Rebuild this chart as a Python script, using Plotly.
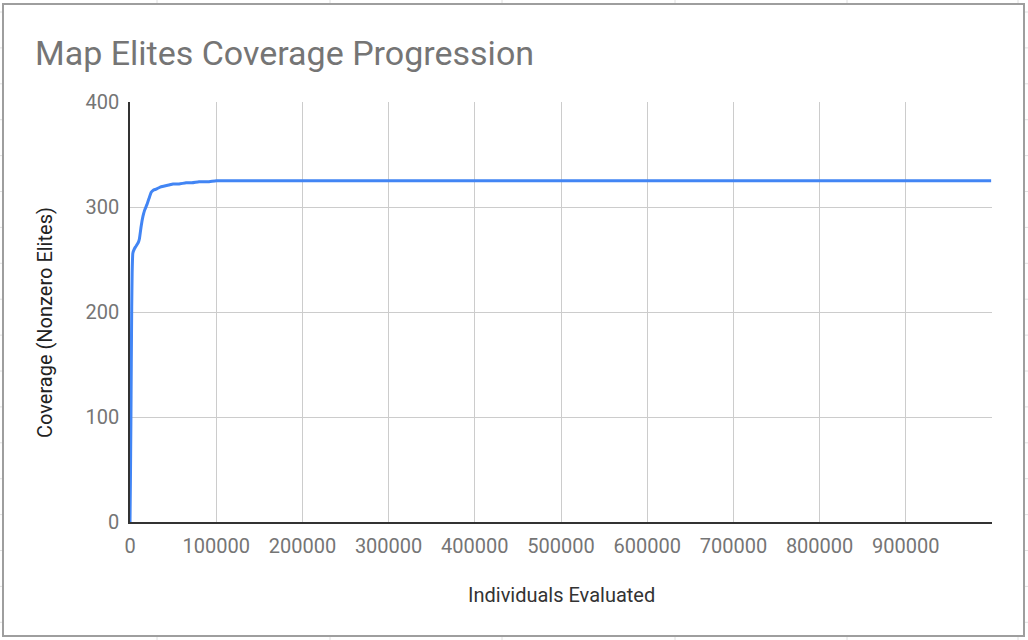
import plotly.graph_objects as go

# ---- data ----
individuals = [0, 500, 1000, 1500, 2000, 2500, 3300, 5000, 6400, 8000, 10000, 11000,
               13000, 15000, 17000, 19500, 22000, 24600, 27000, 30400, 35000, 40000,
               45000, 50000, 57000, 65000, 72000, 80000, 90000, 100000, 105000,
               200000, 400000, 600000, 800000, 999000]
coverage = [0, 40, 90, 150, 205, 238, 256, 260, 262, 264, 267, 270,
            282, 291, 297, 302, 308, 314, 316, 317, 319, 320,
            321, 322, 322, 323, 323, 324, 324, 325, 325,
            325, 325, 325, 325, 325]

x_ticks = [0, 100000, 200000, 300000, 400000, 500000, 600000, 700000, 800000, 900000]
y_ticks = [0, 100, 200, 300, 400]

title_text = "Map Elites Coverage Progression"
x_title = "Individuals Evaluated"
y_title = "Coverage (Nonzero Elites)"

# ---- layout geometry (pixels) ----
W, H = 1028, 640
L, R, T, B = 130, 36, 102, 118
PW, PH = W - L - R, H - T - B


def px(x):
    return (x - L) / PW


def py(y):
    return (H - B - y) / PH


fig = go.Figure()
fig.add_trace(go.Scatter(
    x=individuals, y=coverage, mode="lines",
    line=dict(color="#4285F4", width=3, shape="spline", smoothing=0.3),
    hoverinfo="x+y", showlegend=False,
))

font_family = "Roboto, Arial, sans-serif"

shapes = []
# outer border of the chart card
shapes.append(dict(type="rect", xref="paper", yref="paper",
                   x0=px(3), x1=px(1024), y0=py(636), y1=py(4),
                   line=dict(color="#9e9e9e", width=2), fillcolor="rgba(0,0,0,0)", layer="above"))
# faint spreadsheet cell marks outside the card
for xv in [157, 330, 502, 675, 847, 1018]:
    shapes.append(dict(type="line", xref="paper", yref="paper",
                       x0=px(xv), x1=px(xv), y0=py(0), y1=py(3),
                       line=dict(color="#e0e0e0", width=1)))
    shapes.append(dict(type="line", xref="paper", yref="paper",
                       x0=px(xv), x1=px(xv), y0=py(637), y1=py(640),
                       line=dict(color="#e0e0e0", width=1)))
yv = 12.0
while yv < 636:
    shapes.append(dict(type="line", xref="paper", yref="paper",
                       x0=px(1025), x1=px(1028), y0=py(yv), y1=py(yv),
                       line=dict(color="#e0e0e0", width=1)))
    shapes.append(dict(type="line", xref="paper", yref="paper",
                       x0=px(0), x1=px(2), y0=py(yv), y1=py(yv),
                       line=dict(color="#e0e0e0", width=1)))
    yv += 35.9

fig.update_layout(
    width=W, height=H, autosize=False,
    margin=dict(l=L, r=R, t=T, b=B, pad=0),
    paper_bgcolor="white", plot_bgcolor="white",
    font=dict(family=font_family, color="#757575"),
    title=dict(text=title_text, x=35 / W, xanchor="left", xref="container",
               y=1 - 53 / H, yanchor="middle", yref="container",
               font=dict(size=34, color="#757575", family=font_family)),
    xaxis=dict(range=[0, 1000000], tickvals=x_ticks, ticktext=[str(v) for v in x_ticks],
               showgrid=True, gridcolor="#cccccc", gridwidth=1,
               showline=True, linecolor="#333333", linewidth=1.5,
               zeroline=False, ticks="", ticklabelstandoff=5,
               tickfont=dict(size=20, color="#757575"), fixedrange=True),
    yaxis=dict(range=[0, 400], tickvals=y_ticks, ticktext=[str(v) for v in y_ticks],
               showgrid=True, gridcolor="#cccccc", gridwidth=1,
               showline=True, linecolor="#333333", linewidth=1.5,
               zeroline=False, ticks="", ticklabelstandoff=5,
               tickfont=dict(size=20, color="#757575"), fixedrange=True),
    shapes=shapes,
    annotations=[
        dict(text=x_title, xref="paper", yref="paper", x=px(561), y=py(595),
             xanchor="center", yanchor="middle", showarrow=False,
             font=dict(size=20, color="#333333", family=font_family)),
        dict(text=y_title, xref="paper", yref="paper", x=px(45), y=py(323),
             xanchor="center", yanchor="middle", showarrow=False, textangle=-90,
             font=dict(size=20, color="#222222", family=font_family)),
    ],
)

fig.write_html("out.html")
